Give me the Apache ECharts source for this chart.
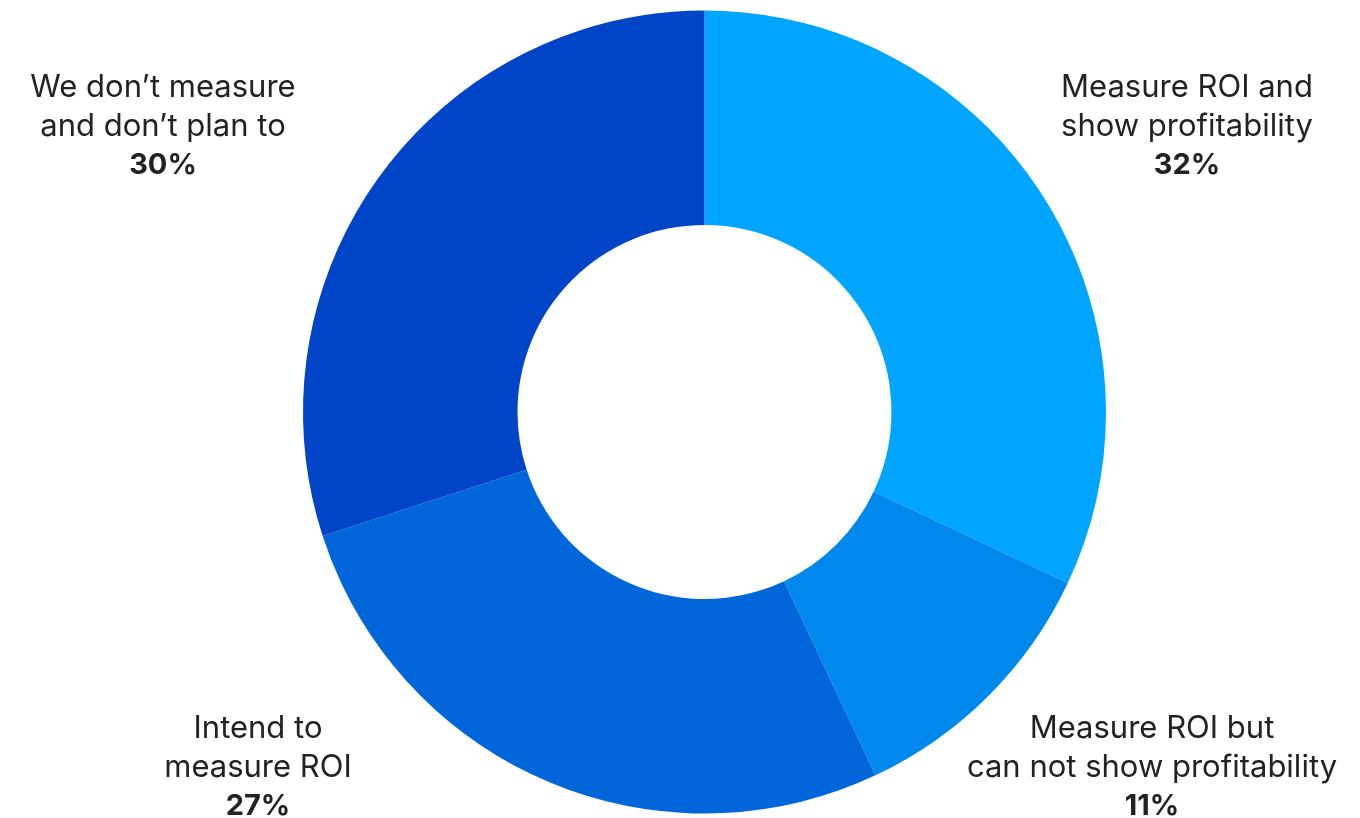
<!DOCTYPE html>
<html>
<head>
<meta charset="utf-8">
<script src="https://cdn.jsdelivr.net/npm/echarts@6/dist/echarts.min.js"></script>
<style>
html,body{margin:0;padding:0;background:#fff;}
#chart{width:1360px;height:818px;}
</style>
</head>
<body>
<div id="chart"></div>
<script>
const categories = [
  "Measure ROI and\nshow profitability",
  "Measure ROI but\ncan not show profitability",
  "Intend to\nmeasure ROI",
  "We don\u2019t measure\nand don\u2019t plan to"
];
const values = [32, 11, 27, 30];
const colors = ["#00A5FF", "#0088EC", "#0066DA", "#0045C8"];
// label anchor positions (centre of each text block), in pixels
const labelPos = [[1187, 126], [1152, 767], [258, 767], [163, 126]];

const chart = echarts.init(document.getElementById('chart'), null, {renderer: 'canvas'});
chart.setOption({
  animation: false,
  series: [{
    type: 'pie',
    center: [704.5, 412],
    radius: [187, 401.5],
    startAngle: 90,
    clockwise: true,
    avoidLabelOverlap: false,
    data: categories.map((c, i) => ({
      name: c, value: values[i], itemStyle: {color: colors[i]}
    })),
    label: {
      show: true,
      position: 'outside',
      formatter: p => p.name + '\n{b|' + p.value + '%}',
      fontFamily: 'Inter',
      fontSize: 31,
      lineHeight: 39,
      color: '#222222',
      align: 'center',
      rich: {
        b: {fontFamily: 'Inter', fontSize: 29, fontWeight: 'bold', lineHeight: 38, color: '#222222'}
      }
    },
    labelLine: {show: false},
    labelLayout: function (params) {
      const p = labelPos[params.dataIndex];
      return {x: p[0], y: p[1], align: 'center', verticalAlign: 'middle'};
    }
  }]
});
</script>
</body>
</html>
